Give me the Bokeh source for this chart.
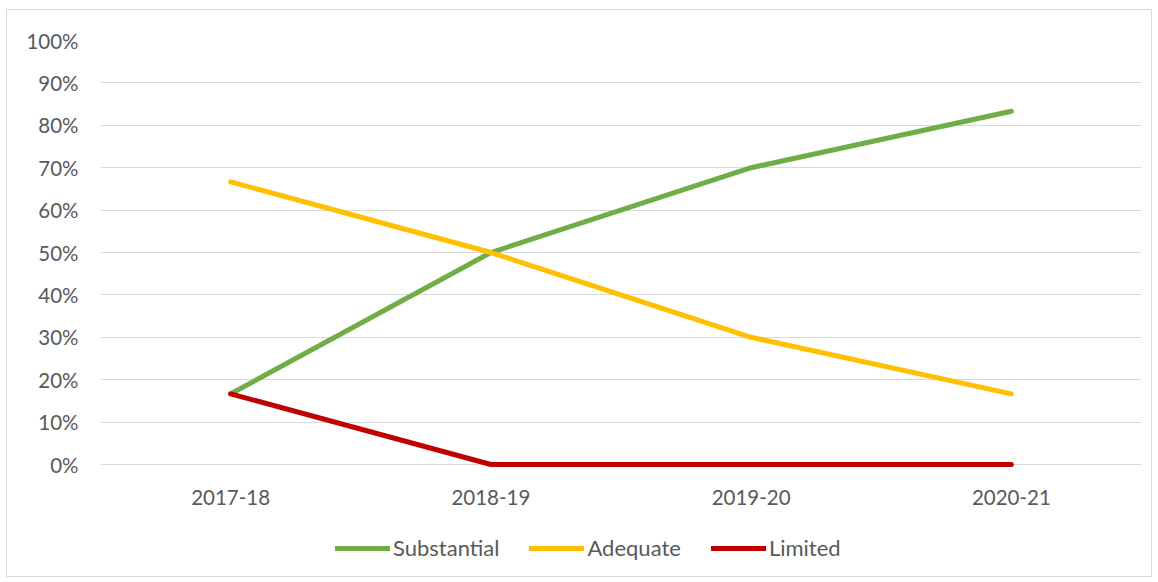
from bokeh.plotting import figure
from bokeh.models import Legend, LegendItem, NumeralTickFormatter, FixedTicker
from bokeh.embed import file_html
from bokeh.resources import INLINE

years = ["2017-18", "2018-19", "2019-20", "2020-21"]
substantial = [0.1667, 0.50, 0.70, 0.8333]
adequate = [0.6667, 0.50, 0.30, 0.1667]
limited = [0.1667, 0.0, 0.0, 0.0]
y_ticks = [0, 0.1, 0.2, 0.3, 0.4, 0.5, 0.6, 0.7, 0.8, 0.9, 1.0]

FONT = "Lato"
TXT = "#595959"
FS = "20.5px"

# frame spans from the 100% line down to the legend row; 424 px per 100%
p = figure(x_range=years, y_range=(-0.257, 1.0), frame_width=1041, frame_height=533,
           output_backend="svg", toolbar_location=None,
           min_border_left=93, min_border_right=10, min_border_top=30, min_border_bottom=3)
p.styles = {"border": "1px solid #d9d9d9", "margin-left": "6px", "margin-top": "9px"}
p.outline_line_color = None
p.background_fill_color = "white"

r1 = p.line(years, substantial, line_color="#70AD47", line_width=5, line_cap="round", line_join="round")
r2 = p.line(years, adequate, line_color="#FFC000", line_width=5, line_cap="round", line_join="round")
r3 = p.line(years, limited, line_color="#C00000", line_width=5, line_cap="round", line_join="round")

p.xgrid.grid_line_color = None
p.ygrid.grid_line_color = "#d9d9d9"
p.ygrid.grid_line_width = 1
p.yaxis.ticker = FixedTicker(ticks=y_ticks)
p.yaxis.formatter = NumeralTickFormatter(format="0%")
for ax in (p.xaxis, p.yaxis):
    ax.axis_line_color = None
    ax.major_tick_line_color = None
    ax.minor_tick_line_color = None
    ax.major_label_text_font = FONT
    ax.major_label_text_font_size = FS
    ax.major_label_text_color = TXT
p.yaxis.major_label_standoff = 16
p.xaxis.fixed_location = -0.11
p.xaxis.major_label_standoff = -27

legend = Legend(items=[LegendItem(label="Substantial", renderers=[r1]),
                       LegendItem(label="Adequate", renderers=[r2]),
                       LegendItem(label="Limited", renderers=[r3])],
                orientation="horizontal", location=(235, 12),
                label_text_font=FONT, label_text_font_size="22px", label_text_color=TXT,
                glyph_width=55, label_standoff=3, spacing=30, border_line_color=None,
                background_fill_alpha=0, margin=0, padding=2)
p.add_layout(legend, "center")

open("out.html", "w").write(file_html(p, INLINE))
